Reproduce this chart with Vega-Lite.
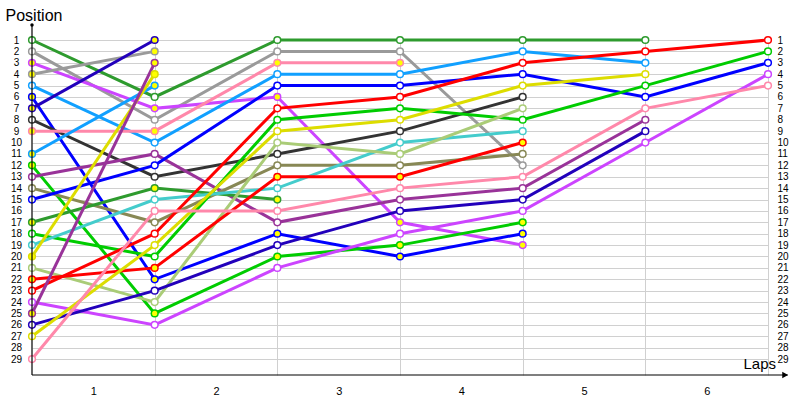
{
"$schema": "https://vega.github.io/schema/vega-lite/v6.json",
"autosize": {"type": "none"},
"padding": {"left": 32, "top": 40, "right": 32, "bottom": 25},
"width": 736,
"height": 335,
"background": "white",
"config": {
  "view": {"stroke": null},
  "font": "Liberation Sans",
  "axis": {"labelFont": "Liberation Sans", "labelFontSize": 10, "labelColor": "#000000", "titleFont": "Liberation Sans", "titleColor": "#000000", "titleFontWeight": "normal", "gridColor": "#d0d0d0", "gridWidth": 1, "ticks": false, "domain": false, "labelOverlap": false, "labelFlush": false}
},
"datasets": {
  "race": [
    {"d":"S1","l":0,"p":1,"f":"n"},{"d":"S1","l":1,"p":6,"f":"n"},{"d":"S1","l":2,"p":1,"f":"n"},{"d":"S1","l":3,"p":1,"f":"n"},{"d":"S1","l":4,"p":1,"f":"n"},{"d":"S1","l":5,"p":1,"f":"n"},
    {"d":"S2","l":0,"p":2,"f":"n"},{"d":"S2","l":1,"p":8,"f":"n"},{"d":"S2","l":2,"p":2,"f":"n"},{"d":"S2","l":3,"p":2,"f":"n"},{"d":"S2","l":4,"p":12,"f":"n"},
    {"d":"S3","l":0,"p":3,"f":"y"},{"d":"S3","l":1,"p":7,"f":"y"},{"d":"S3","l":2,"p":6,"f":"y"},{"d":"S3","l":3,"p":17,"f":"y"},{"d":"S3","l":4,"p":19,"f":"y"},
    {"d":"S4","l":0,"p":4,"f":"y"},{"d":"S4","l":1,"p":2,"f":"y"},
    {"d":"S5","l":0,"p":5,"f":"n"},{"d":"S5","l":1,"p":10,"f":"n"},{"d":"S5","l":2,"p":4,"f":"n"},{"d":"S5","l":3,"p":4,"f":"n"},{"d":"S5","l":4,"p":2,"f":"n"},{"d":"S5","l":5,"p":3,"f":"n"},
    {"d":"S6","l":0,"p":6,"f":"y"},{"d":"S6","l":1,"p":22,"f":"y"},{"d":"S6","l":2,"p":18,"f":"y"},{"d":"S6","l":3,"p":20,"f":"y"},{"d":"S6","l":4,"p":18,"f":"y"},
    {"d":"S7","l":0,"p":7,"f":"y"},{"d":"S7","l":1,"p":1,"f":"y"},
    {"d":"S8","l":0,"p":8,"f":"n"},{"d":"S8","l":1,"p":13,"f":"n"},{"d":"S8","l":2,"p":11,"f":"n"},{"d":"S8","l":3,"p":9,"f":"n"},{"d":"S8","l":4,"p":6,"f":"n"},
    {"d":"S9","l":0,"p":9,"f":"y"},{"d":"S9","l":1,"p":9,"f":"y"},{"d":"S9","l":2,"p":3,"f":"y"},{"d":"S9","l":3,"p":3,"f":"y"},
    {"d":"S11","l":0,"p":11,"f":"y"},{"d":"S11","l":1,"p":5,"f":"y"},
    {"d":"S12","l":0,"p":12,"f":"y"},{"d":"S12","l":1,"p":25,"f":"y"},{"d":"S12","l":2,"p":20,"f":"y"},{"d":"S12","l":3,"p":19,"f":"y"},{"d":"S12","l":4,"p":17,"f":"y"},
    {"d":"S13","l":0,"p":13,"f":"n"},{"d":"S13","l":1,"p":11,"f":"n"},{"d":"S13","l":2,"p":17,"f":"n"},{"d":"S13","l":3,"p":15,"f":"n"},{"d":"S13","l":4,"p":14,"f":"n"},{"d":"S13","l":5,"p":8,"f":"n"},
    {"d":"S14","l":0,"p":14,"f":"n"},{"d":"S14","l":1,"p":17,"f":"n"},{"d":"S14","l":2,"p":12,"f":"n"},{"d":"S14","l":3,"p":12,"f":"n"},{"d":"S14","l":4,"p":11,"f":"n"},
    {"d":"S15","l":0,"p":15,"f":"n"},{"d":"S15","l":1,"p":12,"f":"n"},{"d":"S15","l":2,"p":5,"f":"n"},{"d":"S15","l":3,"p":5,"f":"n"},{"d":"S15","l":4,"p":4,"f":"n"},{"d":"S15","l":5,"p":6,"f":"n"},{"d":"S15","l":6,"p":3,"f":"n"},
    {"d":"S17","l":0,"p":17,"f":"y"},{"d":"S17","l":1,"p":14,"f":"y"},{"d":"S17","l":2,"p":15,"f":"y"},
    {"d":"S18","l":0,"p":18,"f":"n"},{"d":"S18","l":1,"p":20,"f":"n"},{"d":"S18","l":2,"p":8,"f":"n"},{"d":"S18","l":3,"p":7,"f":"n"},{"d":"S18","l":4,"p":8,"f":"n"},{"d":"S18","l":5,"p":5,"f":"n"},{"d":"S18","l":6,"p":2,"f":"n"},
    {"d":"S19","l":0,"p":19,"f":"n"},{"d":"S19","l":1,"p":15,"f":"n"},{"d":"S19","l":2,"p":14,"f":"n"},{"d":"S19","l":3,"p":10,"f":"n"},{"d":"S19","l":4,"p":9,"f":"n"},
    {"d":"S20","l":0,"p":20,"f":"y"},{"d":"S20","l":1,"p":4,"f":"y"},
    {"d":"S21","l":0,"p":21,"f":"n"},{"d":"S21","l":1,"p":24,"f":"n"},{"d":"S21","l":2,"p":10,"f":"n"},{"d":"S21","l":3,"p":11,"f":"n"},{"d":"S21","l":4,"p":7,"f":"n"},
    {"d":"S22","l":0,"p":22,"f":"y"},{"d":"S22","l":1,"p":21,"f":"y"},{"d":"S22","l":2,"p":13,"f":"y"},{"d":"S22","l":3,"p":13,"f":"y"},{"d":"S22","l":4,"p":10,"f":"y"},
    {"d":"S23","l":0,"p":23,"f":"n"},{"d":"S23","l":1,"p":18,"f":"n"},{"d":"S23","l":2,"p":7,"f":"n"},{"d":"S23","l":3,"p":6,"f":"n"},{"d":"S23","l":4,"p":3,"f":"n"},{"d":"S23","l":5,"p":2,"f":"n"},{"d":"S23","l":6,"p":1,"f":"n"},
    {"d":"S24","l":0,"p":24,"f":"n"},{"d":"S24","l":1,"p":26,"f":"n"},{"d":"S24","l":2,"p":21,"f":"n"},{"d":"S24","l":3,"p":18,"f":"n"},{"d":"S24","l":4,"p":16,"f":"n"},{"d":"S24","l":5,"p":10,"f":"n"},{"d":"S24","l":6,"p":4,"f":"n"},
    {"d":"S25","l":0,"p":25,"f":"y"},{"d":"S25","l":1,"p":3,"f":"y"},
    {"d":"S26","l":0,"p":26,"f":"n"},{"d":"S26","l":1,"p":23,"f":"n"},{"d":"S26","l":2,"p":19,"f":"n"},{"d":"S26","l":3,"p":16,"f":"n"},{"d":"S26","l":4,"p":15,"f":"n"},{"d":"S26","l":5,"p":9,"f":"n"},
    {"d":"S27","l":0,"p":27,"f":"n"},{"d":"S27","l":1,"p":19,"f":"n"},{"d":"S27","l":2,"p":9,"f":"n"},{"d":"S27","l":3,"p":8,"f":"n"},{"d":"S27","l":4,"p":5,"f":"n"},{"d":"S27","l":5,"p":4,"f":"n"},
    {"d":"S29","l":0,"p":29,"f":"n"},{"d":"S29","l":1,"p":16,"f":"n"},{"d":"S29","l":2,"p":16,"f":"n"},{"d":"S29","l":3,"p":14,"f":"n"},{"d":"S29","l":4,"p":13,"f":"n"},{"d":"S29","l":5,"p":7,"f":"n"},{"d":"S29","l":6,"p":5,"f":"n"}
  ],
  "one": [{}]
},
"resolve": {"axis": {"y": "independent", "x": "independent"}},
"layer": [
  {
    "data": {"name": "race"},
    "mark": {"type": "line", "strokeWidth": 3},
    "encoding": {
      "x": {"field": "l", "type": "quantitative", "scale": {"domain": [0, 6], "nice": false, "zero": false},
        "axis": {"orient": "bottom", "values": [1, 2, 3, 4, 5, 6], "grid": true, "labelOffset": -61.3, "labelPadding": 10, "format": "d", "labelFontSize": 11,
          "title": "Laps", "titleX": 711, "titleY": -7, "titleAlign": "left", "titleBaseline": "alphabetic", "titleFontSize": 15}},
      "y": {"field": "p", "type": "quantitative", "scale": {"domain": [1, 30.4], "reverse": true, "nice": false, "zero": false},
        "axis": {"orient": "left", "values": [1,2,3,4,5,6,7,8,9,10,11,12,13,14,15,16,17,18,19,20,21,22,23,24,25,26,27,28,29], "grid": true, "labelAlign": "center", "labelPadding": 16,
          "title": "Position", "titleAngle": 0, "titleAlign": "left", "titleBaseline": "alphabetic", "titleX": -27, "titleY": -20, "titleFontSize": 16}},
      "stroke": {"field": "d", "type": "nominal", "legend": null,
        "scale": {"domain": ["S1","S2","S3","S4","S5","S6","S7","S8","S9","S11","S12","S13","S14","S15","S17","S18","S19","S20","S21","S22","S23","S24","S25","S26","S27","S29"],
          "range": ["#2e9b2e","#9a9a9a","#cc44ff","#9a9a9a","#11a0ff","#0000ff","#2200bb","#333333","#ff88aa","#11a0ff","#00cc00","#993399","#888855","#0000ff","#2e9b2e","#00cc00","#44cccc","#dddd00","#aacc77","#ff0000","#ff0000","#cc44ff","#993399","#2200bb","#dddd00","#ff88aa"]}}
    }
  },
  {
    "data": {"name": "race"},
    "mark": {"type": "point", "shape": "circle", "size": 45, "strokeWidth": 1.5, "opacity": 1, "fillOpacity": 1},
    "encoding": {
      "x": {"field": "l", "type": "quantitative", "scale": {"domain": [0, 6], "nice": false, "zero": false}, "axis": null},
      "y": {"field": "p", "type": "quantitative", "scale": {"domain": [1, 30.4], "reverse": true, "nice": false, "zero": false},
        "axis": {"orient": "right", "values": [1,2,3,4,5,6,7,8,9,10,11,12,13,14,15,16,17,18,19,20,21,22,23,24,25,26,27,28,29], "grid": false, "labelAlign": "left", "labelPadding": 9, "title": null}},
      "stroke": {"field": "d", "type": "nominal", "legend": null},
      "fill": {"field": "f", "type": "nominal", "legend": null, "scale": {"domain": ["y", "n"], "range": ["#ffff00", "#ffffff"]}}
    }
  },
  {
    "data": {"name": "one"},
    "mark": {"type": "rule", "color": "#000000", "strokeWidth": 1.2},
    "encoding": {
      "x": {"datum": 0, "type": "quantitative", "scale": {"domain": [0, 6], "nice": false, "zero": false}, "axis": null},
      "y": {"datum": -0.32, "type": "quantitative", "scale": {"domain": [1, 30.4], "reverse": true, "nice": false, "zero": false}, "axis": null},
      "y2": {"datum": 30.4}
    }
  },
  {
    "data": {"name": "one"},
    "mark": {"type": "rule", "color": "#000000", "strokeWidth": 1.2},
    "encoding": {
      "x": {"datum": 0, "type": "quantitative", "scale": {"domain": [0, 6], "nice": false, "zero": false}, "axis": null},
      "x2": {"datum": 6.16},
      "y": {"datum": 30.4, "type": "quantitative", "scale": {"domain": [1, 30.4], "reverse": true, "nice": false, "zero": false}, "axis": null}
    }
  },
  {
    "data": {"name": "one"},
    "mark": {"type": "point", "shape": "triangle-right", "size": 45, "filled": true, "color": "#000000", "opacity": 1},
    "encoding": {
      "x": {"datum": 6.14, "type": "quantitative", "scale": {"domain": [0, 6], "nice": false, "zero": false}, "axis": null},
      "y": {"datum": 30.4, "type": "quantitative", "scale": {"domain": [1, 30.4], "reverse": true, "nice": false, "zero": false}, "axis": null}
    }
  },
  {
    "data": {"name": "one"},
    "mark": {"type": "point", "shape": "circle", "size": 12, "filled": true, "color": "#000000", "opacity": 1},
    "encoding": {
      "x": {"datum": 0, "type": "quantitative", "scale": {"domain": [0, 6], "nice": false, "zero": false}, "axis": null},
      "y": {"datum": -0.32, "type": "quantitative", "scale": {"domain": [1, 30.4], "reverse": true, "nice": false, "zero": false}, "axis": null}
    }
  }
]
}
